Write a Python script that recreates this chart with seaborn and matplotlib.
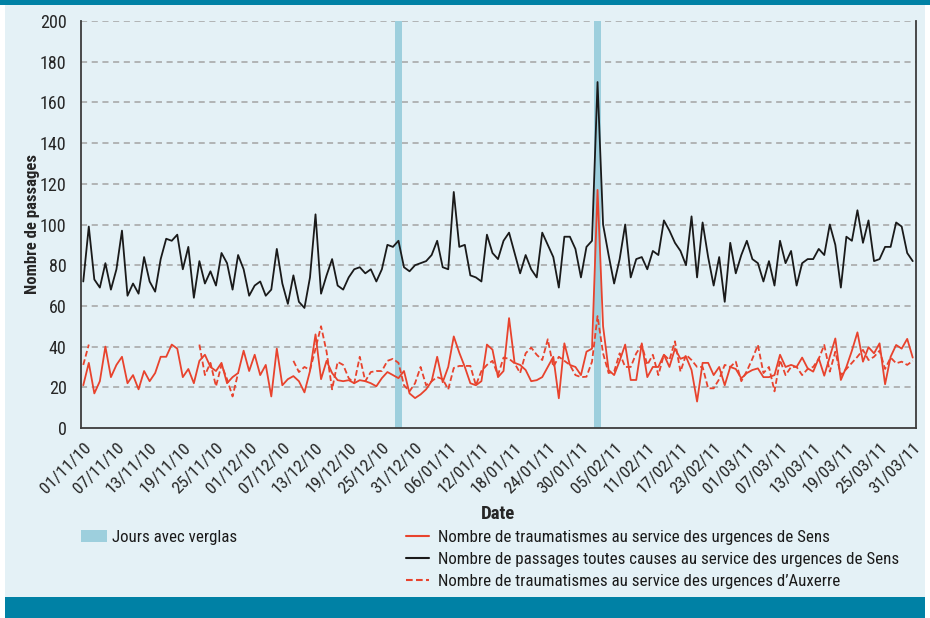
import numpy as np
import pandas as pd
import matplotlib
matplotlib.use("Agg")
import matplotlib.pyplot as plt
import matplotlib.transforms as mtransforms
import seaborn as sns
from matplotlib import font_manager
from matplotlib.patches import Rectangle, Patch
from matplotlib.lines import Line2D

# ---------------- data ----------------
dates = pd.date_range("2010-11-01", "2011-03-31", freq="D")
tick_every = 6
verglas_days = ["2010-12-28", "2011-02-02"]
y_ticks = list(range(0, 201, 20))

passages_sens = [
    72, 99, 73, 69, 81, 68, 78, 97, 65, 71, 66, 84, 72, 67, 83, 93, 92, 95, 78, 89,
    64, 82, 71, 77, 70, 86, 81, 68, 85, 78, 65, 70, 72, 65, 68, 88, 71, 61, 75, 62,
    59, 74, 105, 66, 75, 83, 70, 68, 74, 78, 79, 76, 78, 72, 78, 90, 89, 92, 79, 77,
    80, 81, 82, 85, 92, 79, 78, 116, 89, 90, 75, 74, 72, 95, 86, 83, 92, 96, 86, 76,
    85, 78, 74, 96, 90, 84, 69, 94, 94, 88, 74, 89, 92, 170, 100, 85, 71, 83, 100, 74,
    83, 84, 78, 87, 85, 102, 97, 91, 87, 80, 104, 74, 101, 84, 70, 84, 62, 91, 76, 85,
    92, 83, 81, 72, 82, 70, 92, 81, 87, 70, 81, 83, 83, 88, 85, 100, 90, 69, 94, 92,
    107, 91, 102, 82, 83, 89, 89, 101, 99, 86, 82,
]

trauma_sens = [
    21, 32, 17, 23, 40, 25, 31, 35, 22, 26, 19, 28, 23, 27, 35, 35, 41, 39, 25, 29,
    22, 33, 36, 30, 28, 32, 22, 25, 27, 38, 28, 36, 26, 31, 15.5, 39, 21, 24, 25.5, 23,
    17.5, 28, 46, 24, 33, 27, 23.5, 23, 23.5, 22, 23.5, 23, 22, 20.5, 24.5, 27.5, 26, 24.5, 28, 17,
    14.7, 16.5, 19, 23, 35, 22.5, 30, 45, 37, 30, 22, 21, 23, 41, 38.5, 25, 28, 54, 32, 31,
    28.5, 23, 23.5, 25, 30, 35, 14.6, 41.6, 31, 30, 26, 37.5, 39, 117, 50, 28.5, 26, 33, 41, 23.6,
    23.6, 41.6, 25, 30, 30, 36, 30, 39, 34, 35, 28.5, 13, 32, 32, 26, 30, 21, 30, 29, 24.4,
    27, 28.5, 29.3, 25, 25, 26, 36, 30, 31, 30, 34.6, 29.3, 27.7, 34.3, 25.7, 35, 44, 23.6, 30, 38,
    47, 32.6, 39.7, 36.7, 41.6, 21.5, 35, 40.8, 39, 43.8, 34.6,
]

nan = np.nan
trauma_auxerre = [
    31, 41, nan, nan, nan, nan, nan, nan, nan, nan, nan, nan, nan, nan, nan, nan, nan, nan, nan, nan,
    nan, 41, 26, 32, 20.5, 31, 24, 15.5, 27, nan, nan, nan, nan, nan, nan, nan, nan, nan, 33, 27.5,
    30, 28.5, 39, 50, 37.5, 19, 32.5, 31, 24.5, 22, 35, 23, 27.5, 28, 28, 33, 34, 32, 21, 18,
    22, 30, 21, 23, 25, 24, 19, 29.5, 30.5, 30.5, 30.5, 21, 28, 31, 33, 26, 34.6, 34, 31.8, 27,
    36.7, 39.5, 36, 33.4, 43.6, 30, 35, 33, 31, 26, 25, 25.2, 32.6, 55, 36.7, 27, 27.7, 36.7, 30, 30,
    36.7, 40.8, 31, 36, 26, 36, 33.4, 42.6, 27.7, 36, 33.4, 30, 30, 19.5, 19.5, 24, 31, 30, 32.6, 23,
    28, 34, 40.8, 27, 30, 18, 33.4, 26, 30, 30, 26, 29, 30, 34, 40.8, 27.7, 37.5, 26, 29, 32,
    35, 38.4, 33.4, 35, 38, 29, 34.6, 31.8, 32.6, 31, 33,
]

labels = {
    "trauma_sens": "Nombre de traumatismes au service des urgences de Sens",
    "passages_sens": "Nombre de passages toutes causes au service des urgences de Sens",
    "trauma_auxerre": "Nombre de traumatismes au service des urgences d\u2019Auxerre",
    "verglas": "Jours avec verglas",
}

# ---------------- style ----------------
PANEL = "#e4f1f6"
TEAL = "#0081a5"
RED = "#e8432d"
BLACK = "#1a1a1a"
BAND = "#9dcfdd"
GRID = "#a3a3a3"
SPINE = "#3c3c3c"

sns.set_theme(style="white")
avail = {f.name for f in font_manager.fontManager.ttflist}
fam = [f for f in ["Liberation Sans Narrow", "Roboto Condensed", "Liberation Sans"] if f in avail]
plt.rcParams["font.family"] = fam + ["DejaVu Sans"]
plt.rcParams["text.color"] = "#1a1a1a"

df = pd.DataFrame({
    "day": np.arange(len(dates)),
    "passages_sens": passages_sens,
    "trauma_sens": trauma_sens,
    "trauma_auxerre": trauma_auxerre,
})
df["seg"] = df["trauma_auxerre"].isna().cumsum()
aux = df.dropna(subset=["trauma_auxerre"])

W, H = 930, 618
fig = plt.figure(figsize=(W / 100, H / 100), dpi=100)
fig.patch.set_facecolor("white")
fig.add_artist(Rectangle((5 / W, 0), 920 / W, 1, transform=fig.transFigure,
                         facecolor=PANEL, edgecolor="none", zorder=-10))
fig.add_artist(Rectangle((0, 1 - 5 / H), 1, 5 / H, transform=fig.transFigure,
                         facecolor=TEAL, edgecolor="none", zorder=-9))
fig.add_artist(Rectangle((5 / W, 0), 920 / W, 21 / H, transform=fig.transFigure,
                         facecolor=TEAL, edgecolor="none", zorder=-9))

ax = fig.add_axes([80.5 / W, 190 / H, 835 / W, 407 / H])
ax.set_facecolor(PANEL)

# icing day bands
for d in verglas_days:
    i = int((pd.Timestamp(d) - dates[0]).days)
    ax.axvspan(i - 0.55, i + 0.55, color=BAND, zorder=1, lw=0)

# gridlines
for v in y_ticks[1:]:
    ax.axhline(v, color=GRID, lw=1.1, dashes=(4, 3), zorder=0.5)

sns.lineplot(data=df, x="day", y="passages_sens", ax=ax, color=BLACK, lw=1.3, zorder=3)
n_before = len(ax.lines)
sns.lineplot(data=aux, x="day", y="trauma_auxerre", units="seg", estimator=None, ax=ax,
             color=RED, lw=1.3, zorder=3)
for l in ax.lines[n_before:]:
    l.set_dashes((3.2, 1.6))
sns.lineplot(data=df, x="day", y="trauma_sens", ax=ax, color=RED, lw=1.3, zorder=4)

ax.set_xlim(-0.5, len(dates) - 0.5)
ax.set_ylim(0, 200)
ax.set_yticks(y_ticks)
ax.set_yticklabels([str(v) for v in y_ticks], fontsize=13)
tick_pos = list(range(0, len(dates), tick_every))
ax.set_xticks(tick_pos)
ax.set_xticklabels([dates[i].strftime("%d/%m/%y") for i in tick_pos], rotation=45,
                   ha="right", rotation_mode="anchor", fontsize=12.6)
offset = mtransforms.ScaledTranslation(7 / 100, 0, fig.dpi_scale_trans)
for lab in ax.get_xticklabels():
    lab.set_transform(lab.get_transform() + offset)
ax.set_xticks([p - 0.5 for p in tick_pos] + [len(dates) - 0.5], minor=True)
ax.tick_params(axis="x", which="major", length=0, pad=9)
ax.tick_params(axis="x", which="minor", length=4, width=1, color=SPINE, direction="out")
ax.tick_params(axis="y", length=0, pad=10)

for s in ["left", "bottom", "right"]:
    ax.spines[s].set_color(SPINE)
    ax.spines[s].set_linewidth(1.3)
ax.spines["top"].set_visible(False)

ax.set_xlabel("Date", fontsize=13.5, fontweight="bold", labelpad=6)
ax.set_ylabel("Nombre de passages", fontsize=12, fontweight="bold", labelpad=0)

leg1 = fig.legend(handles=[Patch(facecolor=BAND, edgecolor="none")], labels=[labels["verglas"]],
                  loc="upper left", bbox_to_anchor=(66 / W, 1 - 515 / H), frameon=False,
                  fontsize=12.2, handlelength=1.5, handleheight=0.72, handletextpad=0.33)
handles = [Line2D([], [], color=RED, lw=1.5),
           Line2D([], [], color=BLACK, lw=1.5),
           Line2D([], [], color=RED, lw=1.5, dashes=(3.2, 1.6))]
leg2 = fig.legend(handles=handles,
                  labels=[labels["trauma_sens"], labels["passages_sens"], labels["trauma_auxerre"]],
                  loc="upper left", bbox_to_anchor=(391 / W, 1 - 515 / H), frameon=False,
                  fontsize=12.2, handlelength=1.35, handletextpad=0.5, labelspacing=0.4)

fig.savefig("out.png", dpi=100, facecolor=fig.get_facecolor())
